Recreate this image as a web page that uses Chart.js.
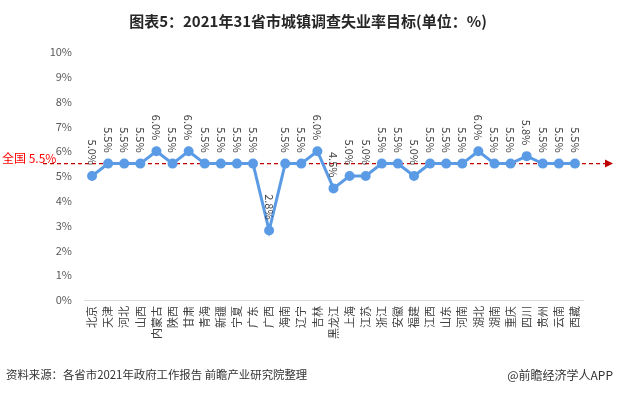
<!DOCTYPE html>
<html>
<head>
<meta charset="utf-8">
<script src="https://cdn.jsdelivr.net/npm/chart.js@4"></script>
<style>
  html, body { margin: 0; padding: 0; background: #fff; }
  #wrap { width: 617px; height: 394px; position: relative; }
</style>
</head>
<body>
<div id="wrap"><canvas id="rateChart" width="617" height="394"></canvas></div>
<script>
// provinces and their 2021 target rates (%)
const provinces = ['北京', '天津', '河北', '山西', '内蒙古', '陕西', '甘肃', '青海', '新疆', '宁夏', '广东', '广西', '海南', '辽宁', '吉林', '黑龙江', '上海', '江苏', '浙江', '安徽', '福建', '江西', '山东', '河南', '湖北', '湖南', '重庆', '四川', '贵州', '云南', '西藏'];
const targetRates = [5.0, 5.5, 5.5, 5.5, 6.0, 5.5, 6.0, 5.5, 5.5, 5.5, 5.5, 2.8, 5.5, 5.5, 6.0, 4.5, 5.0, 5.0, 5.5, 5.5, 5.0, 5.5, 5.5, 5.5, 6.0, 5.5, 5.5, 5.8, 5.5, 5.5, 5.5];
const nationalRate = 5.5;
const yTicks = [0, 1, 2, 3, 4, 5, 6, 7, 8, 9, 10];

const FONT = '"Noto Sans CJK SC", "Noto Sans", sans-serif';

// value labels (rotated), national reference line, title and footer
const extrasPlugin = {
  id: 'extras',
  afterDatasetsDraw(chart) {
    const ctx = chart.ctx;
    const meta = chart.getDatasetMeta(0);
    ctx.save();
    ctx.font = '11px ' + FONT;
    ctx.fillStyle = '#404040';
    meta.data.forEach(function (pt, i) {
      ctx.save();
      ctx.translate(pt.x, pt.y - 11);
      ctx.rotate(Math.PI / 2);
      ctx.textAlign = 'right';
      ctx.textBaseline = 'middle';
      ctx.fillText(targetRates[i].toFixed(1) + '%', 0, 0);
      ctx.restore();
    });
    ctx.restore();
  },
  beforeDatasetsDraw(chart) {
    const ctx = chart.ctx;
    const y = chart.scales.y.getPixelForValue(nationalRate);
    ctx.save();
    ctx.strokeStyle = '#C00000';
    ctx.lineWidth = 1.3;
    ctx.setLineDash([4, 3]);
    ctx.beginPath();
    ctx.moveTo(43, y);
    ctx.lineTo(606, y);
    ctx.stroke();
    ctx.setLineDash([]);
    ctx.fillStyle = '#C00000';
    ctx.beginPath();
    ctx.moveTo(605, y - 4);
    ctx.lineTo(613, y);
    ctx.lineTo(605, y + 4);
    ctx.closePath();
    ctx.fill();
    ctx.fillStyle = '#FF0000';
    ctx.font = '12px ' + FONT;
    ctx.textAlign = 'left';
    ctx.textBaseline = 'bottom';
    ctx.fillText('全国 5.5%', 2, y + 1);
    ctx.restore();
  },
  afterDraw(chart) {
    const ctx = chart.ctx;
    ctx.save();
    ctx.fillStyle = '#262626';
    ctx.font = 'bold 15px ' + FONT;
    ctx.textAlign = 'center';
    ctx.textBaseline = 'middle';
    ctx.fillText('图表5：2021年31省市城镇调查失业率目标(单位：%)', 308, 21);
    ctx.font = '11.4px ' + FONT;
    ctx.fillStyle = '#333333';
    ctx.textAlign = 'left';
    ctx.fillText('资料来源：各省市2021年政府工作报告 前瞻产业研究院整理', 6, 375);
    ctx.font = '12px ' + FONT;
    ctx.textAlign = 'right';
    ctx.fillText('@前瞻经济学人APP', 613, 375);
    ctx.restore();
  }
};

const rateData = {
  labels: provinces,
  datasets: [{
    label: '城镇调查失业率目标',
    data: targetRates,
    borderColor: '#5B9BE6',
    backgroundColor: '#5B9BE6',
    pointBackgroundColor: '#5B9BE6',
    pointBorderColor: '#5B9BE6',
    borderWidth: 3,
    pointRadius: 3.5,
    tension: 0
  }]
};

const rateConfig = {
  type: 'line',
  data: rateData,
  plugins: [extrasPlugin],
  options: {
    responsive: false,
    animation: false,
    layout: { padding: { top: 52, right: 34, left: 0, bottom: 0 } },
    plugins: {
      legend: { display: false },
      tooltip: { enabled: false }
    },
    scales: {
      x: {
        offset: true,
        grid: { display: false, drawTicks: false, offset: true },
        border: { display: true, color: '#D9D9D9', width: 1 },
        ticks: {
          autoSkip: false,
          maxRotation: 90,
          minRotation: 90,
          padding: 6,
          color: '#404040',
          font: { size: 11, family: FONT }
        },
        afterFit: function (scale) { scale.height = 94; }
      },
      y: {
        min: 0,
        max: 10,
        afterBuildTicks: function (scale) {
          scale.ticks = yTicks.map(function (v) { return { value: v }; });
        },
        grid: { display: false, drawTicks: false },
        border: { display: false },
        ticks: {
          padding: 12,
          color: '#595959',
          font: { size: 11, family: FONT },
          callback: function (v) { return v + '%'; }
        },
        afterFit: function (scale) { scale.width = 84; }
      }
    }
  }
};

var rateCtx = document.getElementById('rateChart').getContext('2d');
var rateChart = new Chart(rateCtx, rateConfig);
</script>
</body>
</html>
